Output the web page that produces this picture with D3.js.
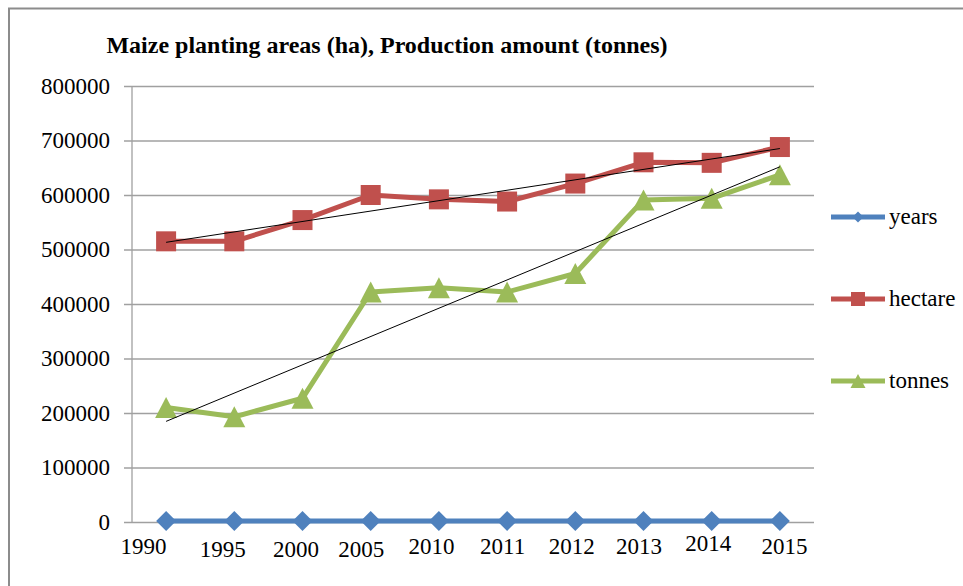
<!DOCTYPE html>
<html>
<head>
<meta charset="utf-8">
<script src="https://cdn.jsdelivr.net/npm/d3@7/dist/d3.min.js"></script>
<style>
  html, body { margin: 0; padding: 0; background: #fff; }
  svg { display: block; }
  text { font-family: "Liberation Serif", "Times New Roman", serif; fill: #000; }
</style>
</head>
<body>
<svg id="chart" width="963" height="586"></svg>
<script>
// ---- data ----
const categories = ["1990", "1995", "2000", "2005", "2010", "2011", "2012", "2013", "2014", "2015"];
const years   = [1990, 1995, 2000, 2005, 2010, 2011, 2012, 2013, 2014, 2015];
const hectare = [515000, 515000, 554000, 600000, 592000, 588000, 621000, 660000, 659000, 688000];
const tonnes  = [210000, 193000, 227000, 422000, 430000, 422000, 456000, 591000, 594000, 637000];
const yTicks  = [0, 100000, 200000, 300000, 400000, 500000, 600000, 700000, 800000];
const seriesNames = ["years", "hectare", "tonnes"];
const titleText = "Maize planting areas (ha), Production amount (tonnes)";

// ---- layout (not data) ----
const W = 963, H = 586;
const plot = { left: 132, right: 814, top: 86, bottom: 522 };
const labelNudge = [[-23, 0], [-12, 3], [-7, 3], [-10, 3], [-8, 0], [-5, 0], [-4, 0], [-5, 0], [-4, -3], [4, 0]];
const colors = { years: "#4F81BD", hectare: "#C0504D", tonnes: "#9BBB59" };

const svg = d3.select("#chart");
svg.append("rect").attr("x", 0).attr("y", 0).attr("width", W).attr("height", H).attr("fill", "#fff");
// outer chart border (extends past the right/bottom edge)
svg.append("rect").attr("x", 9).attr("y", 8.5).attr("width", W + 10).attr("height", H + 10)
  .attr("fill", "none").attr("stroke", "#8c8c8c").attr("stroke-width", 2);

const x = d3.scalePoint().domain(categories).range([plot.left, plot.right]).padding(0.5);
const y = d3.scaleLinear().domain([0, 800000]).range([plot.bottom, plot.top]);

// title
svg.append("text").attr("x", 387).attr("y", 53).attr("text-anchor", "middle")
  .attr("font-size", 24).attr("font-weight", "bold").text(titleText);

// y axis with gridlines
const yAxis = svg.append("g").attr("transform", `translate(${plot.left},0)`)
  .call(d3.axisLeft(y).tickValues(yTicks).tickFormat(d3.format("d")).tickSize(8).tickPadding(14));
yAxis.attr("font-family", null);
yAxis.select(".domain").remove();
yAxis.selectAll(".tick line").attr("x1", -8).attr("x2", plot.right - plot.left)
  .attr("stroke", "#a0a0a0").attr("stroke-width", 1.3);
yAxis.selectAll(".tick text").attr("x", -22).attr("font-size", 23).attr("fill", "#000");
svg.append("line").attr("x1", plot.left).attr("x2", plot.left).attr("y1", plot.top).attr("y2", plot.bottom)
  .attr("stroke", "#a0a0a0").attr("stroke-width", 1.3);

// x axis labels
const xAxis = svg.append("g").attr("transform", `translate(0,${plot.bottom})`)
  .call(d3.axisBottom(x).tickSize(0));
xAxis.attr("font-family", null);
xAxis.select(".domain").remove();
xAxis.selectAll(".tick line").remove();
xAxis.selectAll(".tick text")
  .attr("font-size", 23).attr("fill", "#000")
  .attr("dy", null)
  .attr("x", (d, i) => labelNudge[i][0])
  .attr("y", (d, i) => 32 + labelNudge[i][1]);

// trend lines (least-squares over category index)
function trend(vals) {
  const n = vals.length, xs = vals.map((v, i) => i + 1);
  const mx = d3.mean(xs), my = d3.mean(vals);
  const b = d3.sum(xs.map((xi, i) => (xi - mx) * (vals[i] - my))) / d3.sum(xs.map(xi => (xi - mx) ** 2));
  const a = my - b * mx;
  return [a + b * 1, a + b * n];
}

const line = d3.line().x((d, i) => x(categories[i])).y(d => y(d));
const dataMap = { years, hectare, tonnes };

function marker(g, name, cx, cy, s) {
  const c = colors[name];
  if (name === "years") {
    g.append("path").attr("d", `M${cx},${cy - s / 2}L${cx + s / 2},${cy}L${cx},${cy + s / 2}L${cx - s / 2},${cy}Z`).attr("fill", c);
  } else if (name === "hectare") {
    g.append("rect").attr("x", cx - s / 2).attr("y", cy - s / 2).attr("width", s).attr("height", s).attr("fill", c);
  } else {
    g.append("path").attr("d", `M${cx},${cy - s / 2}L${cx + s / 2 + 0.5},${cy + s / 2}L${cx - s / 2 - 0.5},${cy + s / 2}Z`).attr("fill", c);
  }
}

const sizes = { years: 20, hectare: 20, tonnes: 21 };
seriesNames.forEach(name => {
  const vals = dataMap[name];
  const g = svg.append("g");
  g.append("path").datum(vals).attr("d", line).attr("fill", "none")
    .attr("stroke", colors[name]).attr("stroke-width", 5).attr("stroke-linejoin", "round");
  vals.forEach((v, i) => marker(g, name, x(categories[i]), y(v), sizes[name]));
});

// trend lines on top
["hectare", "tonnes"].forEach(name => {
  const t = trend(dataMap[name]);
  svg.append("line")
    .attr("x1", x(categories[0])).attr("y1", y(t[0]))
    .attr("x2", x(categories[categories.length - 1])).attr("y2", y(t[1]))
    .attr("stroke", "#000").attr("stroke-width", 1);
});

// legend
const legendY = d3.scalePoint().domain(seriesNames).range([217, 381]);
const lg = svg.append("g");
seriesNames.forEach(name => {
  const ly = legendY(name);
  lg.append("line").attr("x1", 831).attr("x2", 885).attr("y1", ly).attr("y2", ly)
    .attr("stroke", colors[name]).attr("stroke-width", 5);
  marker(lg, name, 858, ly, name === "years" ? 11 : 14);
  lg.append("text").attr("x", 889).attr("y", ly + 7).attr("font-size", 23).text(name);
});
</script>
</body>
</html>
